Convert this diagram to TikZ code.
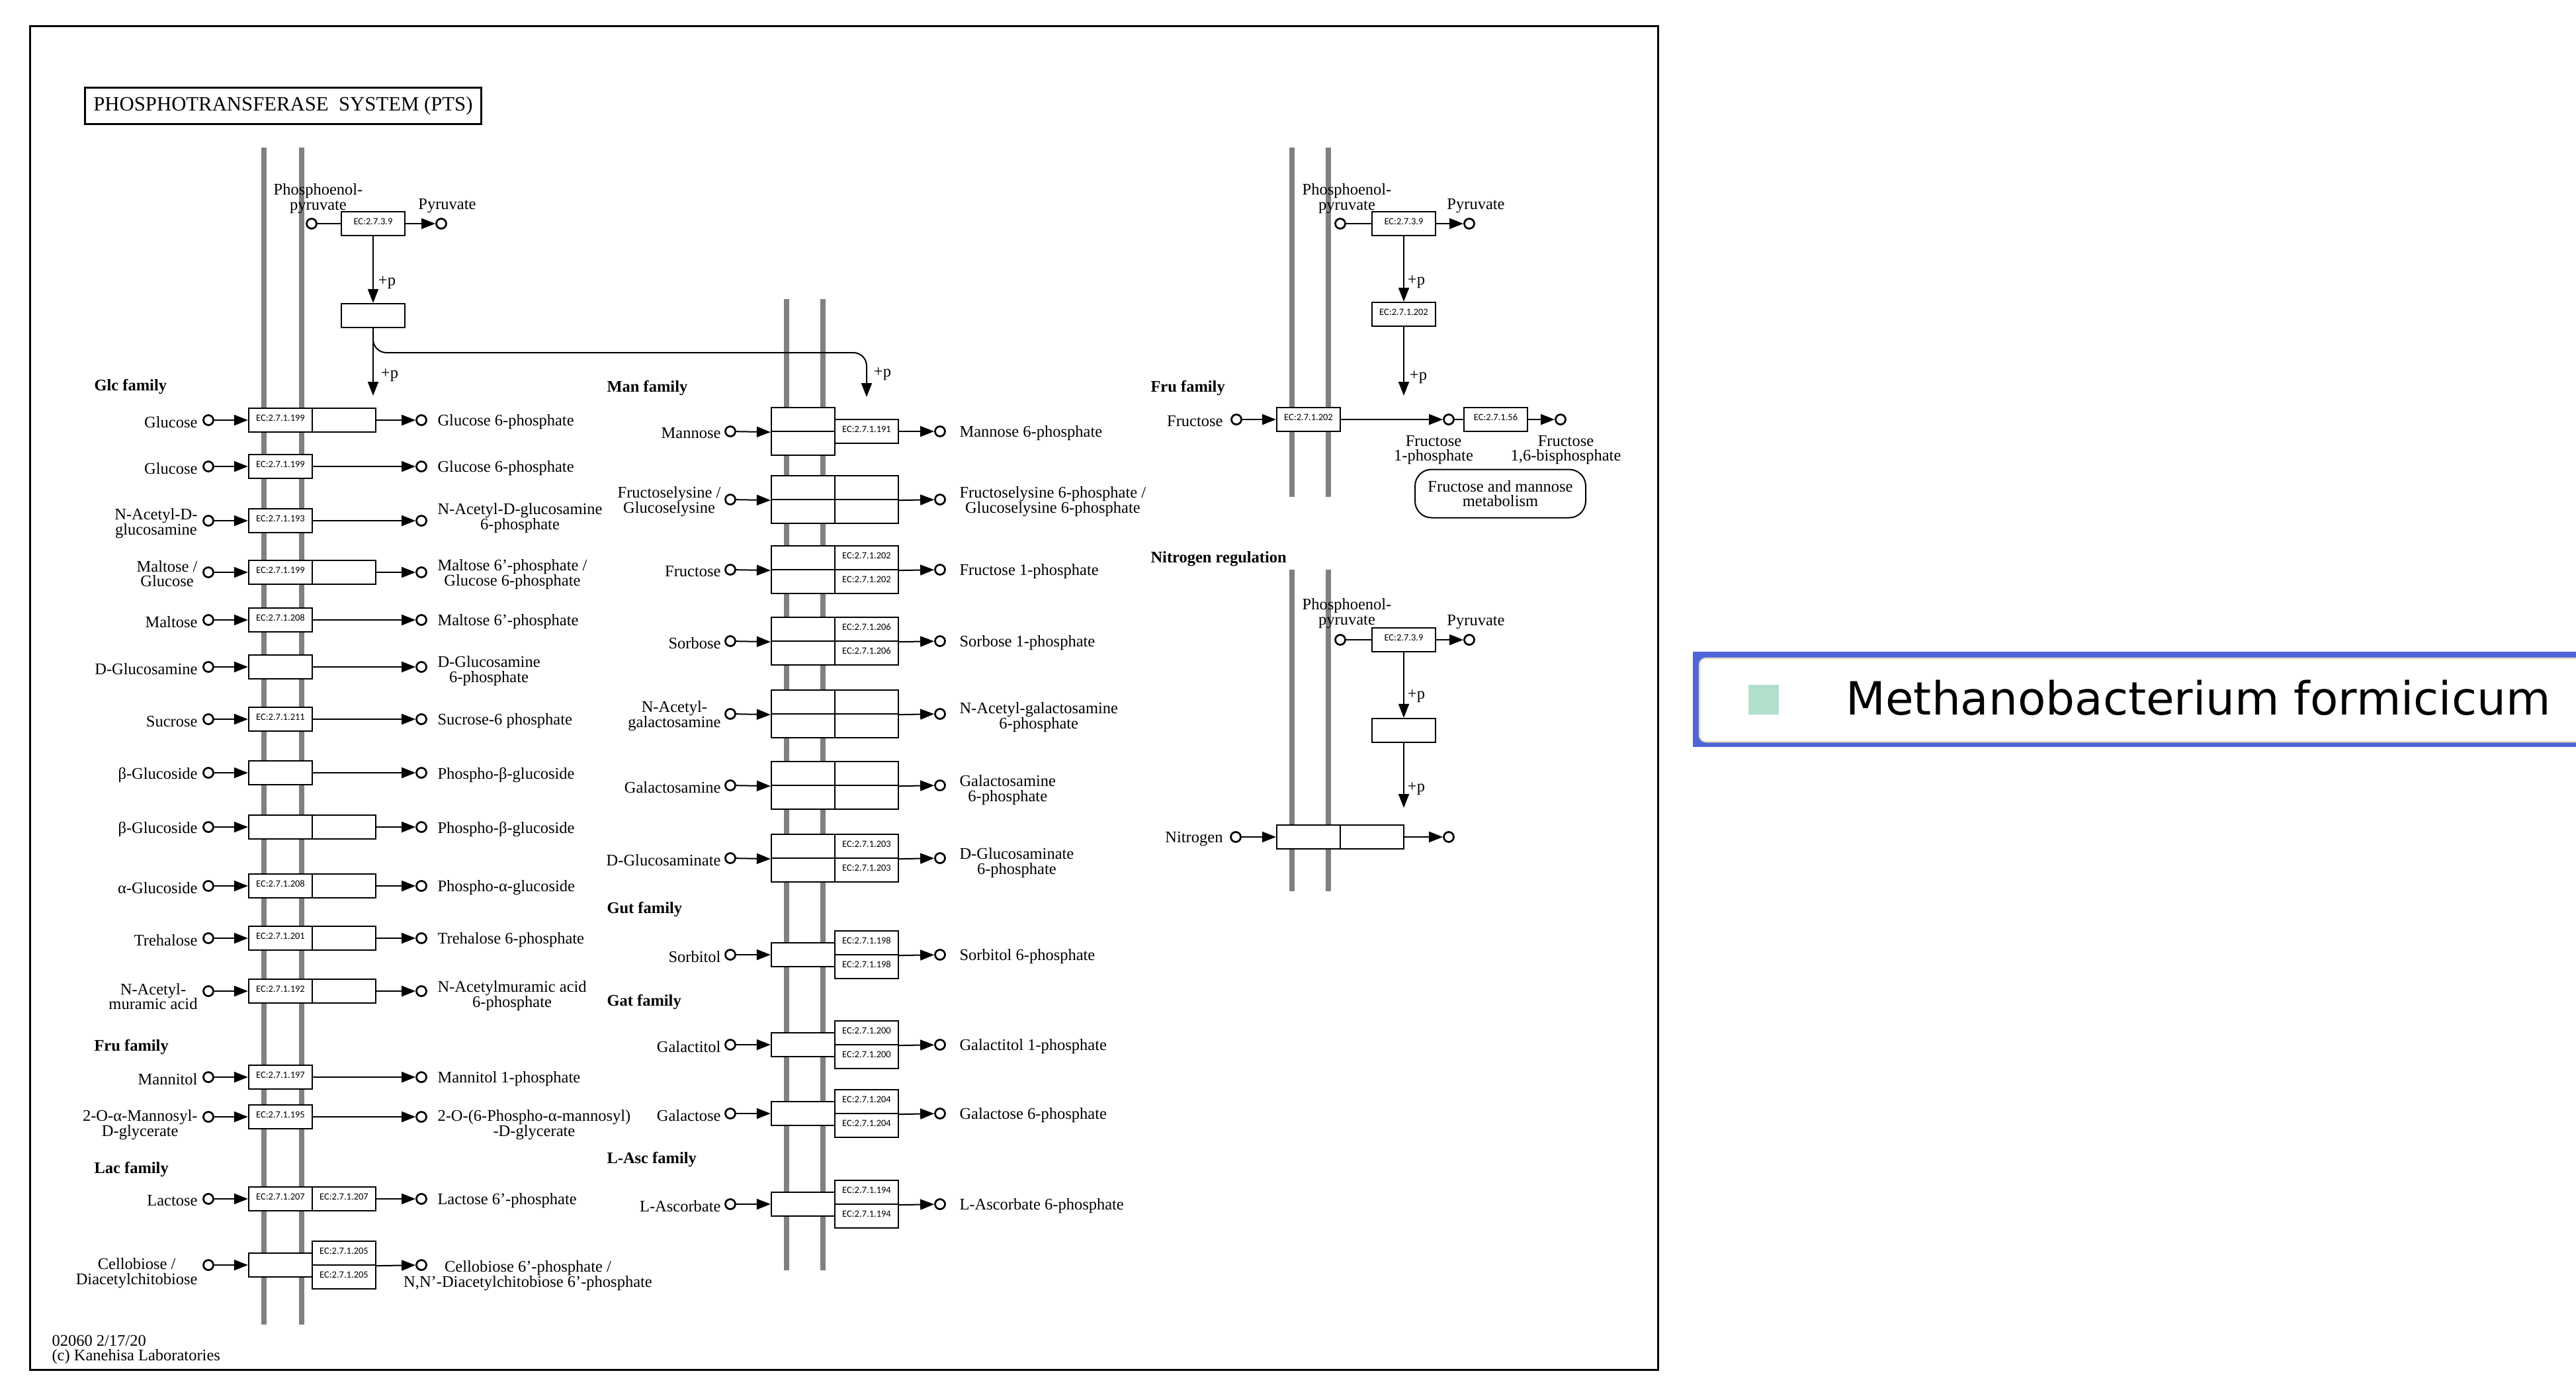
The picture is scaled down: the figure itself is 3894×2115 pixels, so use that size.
\documentclass[tikz,border=0pt]{standalone}
\usepackage{fontspec}
\setmainfont{Liberation Serif}
\newfontfamily\ecfont{Carlito}
\newfontfamily\legendfont{DejaVu Sans}
\usetikzlibrary{
    arrows.meta
}
\definecolor{MembraneGray}{HTML}{808080}
\definecolor{LegendBlue}{HTML}{5066D8}
\definecolor{LegendGreen}{HTML}{B0E0CC}
\definecolor{LegendBeige}{HTML}{E8E0C8}

\begin{document}
\begin{tikzpicture}[
                x=0.4pt, y=-0.4pt,
                every node/.style={align=center, inner sep=0pt},
                cell/.style={draw, fill=white, line width=0.9pt,
                    minimum width=38.4pt, minimum height=14.4pt,
                    text height=3.8pt, text depth=3pt,
                    font=\ecfont\fontsize{5.8}{6}\selectfont},
                cpd/.style={circle, draw, fill=white, line width=1.1pt, minimum size=6pt},
                lbl/.style={font=\fontsize{9.8}{9}\selectfont},
                inlbl/.style={lbl, anchor=east},
                outlbl/.style={lbl, anchor=west},
                family/.style={anchor=west, font=\bfseries\fontsize{9.8}{9}\selectfont},
                flow/.style={-{Triangle[length=8.4pt, width=6.4pt]}, line width=0.8pt},
                link/.style={line width=0.8pt},
                membrane/.style={MembraneGray, line width=3.2pt}
            ]

                \useasboundingbox (0,0) rectangle (3894,2115);

                % frame and title
                \draw[line width=1.2pt] (45,39) rectangle (2506,2070);
                \node[draw, line width=1.2pt, minimum width=239.2pt, minimum height=22pt,
                    font=\fontsize{12.3}{12}\selectfont] (title) at (428,160)
                    {PHOSPHOTRANSFERASE\ \ SYSTEM (PTS)};

                % membranes
                \draw[membrane] (399,223) -- (399,2002);
                \draw[membrane] (456,223) -- (456,2002);
                \draw[membrane] (1189,452) -- (1189,1920);
                \draw[membrane] (1244,452) -- (1244,1920);
                \draw[membrane] (1953,223) -- (1953,751);
                \draw[membrane] (2008,223) -- (2008,751);
                \draw[membrane] (1953,861) -- (1953,1347);
                \draw[membrane] (2008,861) -- (2008,1347);


                % phosphate relay, left
                \node[cpd] (pepa) at (471,338) {};
                \node[cell] (ptsia) at (564,338) {EC:2.7.3.9};
                \node[cpd] (pyra) at (667,338) {};
                \node[lbl] (pepalbl) at (481,300) {Phosphoenol-\\pyruvate};
                \node[lbl] (pyralbl) at (676,311) {Pyruvate};
                \node[cell] (hpra) at (564,477) {};
                \coordinate (glcin) at (564,598);
                \coordinate (branch) at (0,533);
                \coordinate (manin) at (1310,600);
                \node[lbl] (pa1) at (585,427) {+p};
                \node[lbl] (pa2) at (589,567) {+p};
                \node[lbl] (pa3) at (1334,565) {+p};

                \draw[link] (pepa) -- (ptsia);
                \draw[flow] (ptsia) -- (pyra);
                \draw[flow] (ptsia) -- (hpra);
                \draw[flow] (hpra) -- (glcin);
                \draw[flow, rounded corners=8pt]
                    (hpra.south) -- (hpra.south |- branch) -| (manin);


                % Glc family
                \node[family] (glcfam) at (142,585) {Glc family};

                \node[cpd] (glc1in) at (315,635) {};
                \node[cell] (glc1a) at (424,635) {EC:2.7.1.199};
                \node[cell] (glc1b) at (520,635) {};
                \node[cpd] (glc1out) at (637,635) {};
                \node[inlbl] (glc1inl) at (299,638) {Glucose};
                \node[outlbl] (glc1outl) at (661,638) {Glucose 6-phosphate};
                \draw[flow] (glc1in) -- (glc1a);
                \draw[flow] (glc1b) -- (glc1out);

                \node[cpd] (glc2in) at (315,705) {};
                \node[cell] (glc2a) at (424,705) {EC:2.7.1.199};
                \node[cpd] (glc2out) at (637,705) {};
                \node[inlbl] (glc2inl) at (299,708) {Glucose};
                \node[outlbl] (glc2outl) at (661,708) {Glucose 6-phosphate};
                \draw[flow] (glc2in) -- (glc2a);
                \draw[flow] (glc2a) -- (glc2out);

                \node[cpd] (nagin) at (315,787) {};
                \node[cell] (naga) at (424,787) {EC:2.7.1.193};
                \node[cpd] (nagout) at (637,787) {};
                \node[inlbl] (naginl) at (299,791) {N-Acetyl-D-\\glucosamine};
                \node[outlbl] (nagoutl) at (661,783) {N-Acetyl-D-glucosamine\\6-phosphate};
                \draw[flow] (nagin) -- (naga);
                \draw[flow] (naga) -- (nagout);

                \node[cpd] (mal1in) at (315,865) {};
                \node[cell] (mal1a) at (424,865) {EC:2.7.1.199};
                \node[cell] (mal1b) at (520,865) {};
                \node[cpd] (mal1out) at (637,865) {};
                \node[inlbl] (mal1inl) at (299,867) {Maltose /\\Glucose};
                \node[outlbl] (mal1outl) at (661,868) {Maltose 6’-phosphate /\\Glucose 6-phosphate};
                \draw[flow] (mal1in) -- (mal1a);
                \draw[flow] (mal1b) -- (mal1out);

                \node[cpd] (mal2in) at (315,937) {};
                \node[cell] (mal2a) at (424,937) {EC:2.7.1.208};
                \node[cpd] (mal2out) at (637,937) {};
                \node[inlbl] (mal2inl) at (299,940) {Maltose};
                \node[outlbl] (mal2outl) at (661,940) {Maltose 6’-phosphate};
                \draw[flow] (mal2in) -- (mal2a);
                \draw[flow] (mal2a) -- (mal2out);

                \node[cpd] (gcnin) at (315,1008) {};
                \node[cell] (gcna) at (424,1008) {};
                \node[cpd] (gcnout) at (637,1008) {};
                \node[inlbl] (gcninl) at (299,1011) {D-Glucosamine};
                \node[outlbl] (gcnoutl) at (661,1014) {D-Glucosamine\\6-phosphate};
                \draw[flow] (gcnin) -- (gcna);
                \draw[flow] (gcna) -- (gcnout);

                \node[cpd] (sucin) at (315,1087) {};
                \node[cell] (suca) at (424,1087) {EC:2.7.1.211};
                \node[cpd] (sucout) at (637,1087) {};
                \node[inlbl] (sucinl) at (299,1090) {Sucrose};
                \node[outlbl] (sucoutl) at (661,1090) {Sucrose-6 phosphate};
                \draw[flow] (sucin) -- (suca);
                \draw[flow] (suca) -- (sucout);

                \node[cpd] (bgl1in) at (315,1168) {};
                \node[cell] (bgl1a) at (424,1168) {};
                \node[cpd] (bgl1out) at (637,1168) {};
                \node[inlbl] (bgl1inl) at (299,1171) {β-Glucoside};
                \node[outlbl] (bgl1outl) at (661,1171) {Phospho-β-glucoside};
                \draw[flow] (bgl1in) -- (bgl1a);
                \draw[flow] (bgl1a) -- (bgl1out);

                \node[cpd] (bgl2in) at (315,1250) {};
                \node[cell] (bgl2a) at (424,1250) {};
                \node[cell] (bgl2b) at (520,1250) {};
                \node[cpd] (bgl2out) at (637,1250) {};
                \node[inlbl] (bgl2inl) at (299,1253) {β-Glucoside};
                \node[outlbl] (bgl2outl) at (661,1253) {Phospho-β-glucoside};
                \draw[flow] (bgl2in) -- (bgl2a);
                \draw[flow] (bgl2b) -- (bgl2out);

                \node[cpd] (aglin) at (315,1339) {};
                \node[cell] (agla) at (424,1339) {EC:2.7.1.208};
                \node[cell] (aglb) at (520,1339) {};
                \node[cpd] (aglout) at (637,1339) {};
                \node[inlbl] (aglinl) at (299,1342) {α-Glucoside};
                \node[outlbl] (agloutl) at (661,1342) {Phospho-α-glucoside};
                \draw[flow] (aglin) -- (agla);
                \draw[flow] (aglb) -- (aglout);

                \node[cpd] (trein) at (315,1418) {};
                \node[cell] (trea) at (424,1418) {EC:2.7.1.201};
                \node[cell] (treb) at (520,1418) {};
                \node[cpd] (treout) at (637,1418) {};
                \node[inlbl] (treinl) at (299,1421) {Trehalose};
                \node[outlbl] (treoutl) at (661,1421) {Trehalose 6-phosphate};
                \draw[flow] (trein) -- (trea);
                \draw[flow] (treb) -- (treout);

                \node[cpd] (namin) at (315,1498) {};
                \node[cell] (nama) at (424,1498) {EC:2.7.1.192};
                \node[cell] (namb) at (520,1498) {};
                \node[cpd] (namout) at (637,1498) {};
                \node[inlbl] (naminl) at (299,1506) {N-Acetyl-\\muramic acid};
                \node[outlbl] (namoutl) at (661,1505) {N-Acetylmuramic acid\\6-phosphate};
                \draw[flow] (namin) -- (nama);
                \draw[flow] (namb) -- (namout);

                % Fru family, left
                \node[family] (frufama) at (142,1582) {Fru family};

                \node[cpd] (mtlin) at (315,1628) {};
                \node[cell] (mtla) at (424,1628) {EC:2.7.1.197};
                \node[cpd] (mtlout) at (637,1628) {};
                \node[inlbl] (mtlinl) at (299,1631) {Mannitol};
                \node[outlbl] (mtloutl) at (661,1631) {Mannitol 1-phosphate};
                \draw[flow] (mtlin) -- (mtla);
                \draw[flow] (mtla) -- (mtlout);

                \node[cpd] (mngin) at (315,1688) {};
                \node[cell] (mnga) at (424,1688) {EC:2.7.1.195};
                \node[cpd] (mngout) at (637,1688) {};
                \node[inlbl] (mnginl) at (299,1700) {2-O-α-Mannosyl-\\D-glycerate};
                \node[outlbl] (mngoutl) at (661,1700) {2-O-(6-Phospho-α-mannosyl)\\-D-glycerate};
                \draw[flow] (mngin) -- (mnga);
                \draw[flow] (mnga) -- (mngout);

                % Lac family
                \node[family] (lacfam) at (142,1767) {Lac family};

                \node[cpd] (lacin) at (315,1812) {};
                \node[cell] (laca) at (424,1812) {EC:2.7.1.207};
                \node[cell] (lacb) at (520,1812) {EC:2.7.1.207};
                \node[cpd] (lacout) at (637,1812) {};
                \node[inlbl] (lacinl) at (299,1815) {Lactose};
                \node[outlbl] (lacoutl) at (661,1815) {Lactose 6’-phosphate};
                \draw[flow] (lacin) -- (laca);
                \draw[flow] (lacb) -- (lacout);

                \node[cpd] (celin) at (315,1912) {};
                \node[cell] (cela) at (424,1912) {};
                \node[cell] (celbt) at (520,1894) {EC:2.7.1.205};
                \node[cell] (celbb) at (520,1930) {EC:2.7.1.205};
                \node[cpd] (celout) at (637,1912) {};
                \node[inlbl] (celinl) at (299,1924) {Cellobiose /\\Diacetylchitobiose};
                \node[lbl] (celoutl) at (798,1928) {Cellobiose 6’-phosphate /\\N,N’-Diacetylchitobiose 6’-phosphate};
                \draw[flow] (celin) -- (cela);
                \draw[flow] (celbt.south east) -- (celout);

                \node[anchor=west, align=left, font=\fontsize{9.8}{9}\selectfont] (stamp) at (78,2040)
                    {02060 2/17/20\\(c) Kanehisa Laboratories};


                % Man family
                \node[family] (manfam) at (917,587) {Man family};

                \node[cpd] (manin0) at (1104,652) {};
                \node[cell] (mantl) at (1214,634) {};
                \node[cell] (manbl) at (1214,670) {};
                \node[cell] (manr) at (1310,652) {EC:2.7.1.191};
                \node[cpd] (manout) at (1421,652) {};
                \node[inlbl] (maninl) at (1090,655) {Mannose};
                \node[outlbl] (manoutl) at (1450,655) {Mannose 6-phosphate};
                \draw[flow] (manin0) -- (mantl.south west);
                \draw[flow] (manr) -- (manout);

                \node[cpd] (frlin) at (1104,755) {};
                \node[cell] (frltl) at (1214,737) {};
                \node[cell] (frlbl) at (1214,773) {};
                \node[cell] (frltr) at (1310,737) {};
                \node[cell] (frlbr) at (1310,773) {};
                \node[cpd] (frlout) at (1421,755) {};
                \node[inlbl] (frlinl) at (1090,758) {Fructoselysine /\\Glucoselysine};
                \node[outlbl] (frloutl) at (1450,758) {Fructoselysine 6-phosphate /\\Glucoselysine 6-phosphate};
                \draw[flow] (frlin) -- (frltl.south west);
                \draw[flow] (frltr.south east) -- (frlout);

                \node[cpd] (fruin) at (1104,861) {};
                \node[cell] (frutl) at (1214,843) {};
                \node[cell] (frubl) at (1214,879) {};
                \node[cell] (frutr) at (1310,843) {EC:2.7.1.202};
                \node[cell] (frubr) at (1310,879) {EC:2.7.1.202};
                \node[cpd] (fruout) at (1421,861) {};
                \node[inlbl] (fruinl) at (1090,864) {Fructose};
                \node[outlbl] (fruoutl) at (1450,864) {Fructose 1-phosphate};
                \draw[flow] (fruin) -- (frutl.south west);
                \draw[flow] (frutr.south east) -- (fruout);

                \node[cpd] (sorin) at (1104,969) {};
                \node[cell] (sortl) at (1214,951) {};
                \node[cell] (sorbl) at (1214,987) {};
                \node[cell] (sortr) at (1310,951) {EC:2.7.1.206};
                \node[cell] (sorbr) at (1310,987) {EC:2.7.1.206};
                \node[cpd] (sorout) at (1421,969) {};
                \node[inlbl] (sorinl) at (1090,972) {Sorbose};
                \node[outlbl] (soroutl) at (1450,972) {Sorbose 1-phosphate};
                \draw[flow] (sorin) -- (sortl.south west);
                \draw[flow] (sortr.south east) -- (sorout);

                \node[cpd] (nglin) at (1104,1079) {};
                \node[cell] (ngltl) at (1214,1061) {};
                \node[cell] (nglbl) at (1214,1097) {};
                \node[cell] (ngltr) at (1310,1061) {};
                \node[cell] (nglbr) at (1310,1097) {};
                \node[cpd] (nglout) at (1421,1079) {};
                \node[inlbl] (nglinl) at (1090,1082) {N-Acetyl-\\galactosamine};
                \node[outlbl] (ngloutl) at (1450,1084) {N-Acetyl-galactosamine\\6-phosphate};
                \draw[flow] (nglin) -- (ngltl.south west);
                \draw[flow] (ngltr.south east) -- (nglout);

                \node[cpd] (gamin) at (1104,1187) {};
                \node[cell] (gamtl) at (1214,1169) {};
                \node[cell] (gambl) at (1214,1205) {};
                \node[cell] (gamtr) at (1310,1169) {};
                \node[cell] (gambr) at (1310,1205) {};
                \node[cpd] (gamout) at (1421,1187) {};
                \node[inlbl] (gaminl) at (1090,1190) {Galactosamine};
                \node[outlbl] (gamoutl) at (1450,1194) {Galactosamine\\6-phosphate};
                \draw[flow] (gamin) -- (gamtl.south west);
                \draw[flow] (gamtr.south east) -- (gamout);

                \node[cpd] (gmtin) at (1104,1297) {};
                \node[cell] (gmttl) at (1214,1279) {};
                \node[cell] (gmtbl) at (1214,1315) {};
                \node[cell] (gmttr) at (1310,1279) {EC:2.7.1.203};
                \node[cell] (gmtbr) at (1310,1315) {EC:2.7.1.203};
                \node[cpd] (gmtout) at (1421,1297) {};
                \node[inlbl] (gmtinl) at (1090,1300) {D-Glucosaminate};
                \node[outlbl] (gmtoutl) at (1450,1304) {D-Glucosaminate\\6-phosphate};
                \draw[flow] (gmtin) -- (gmttl.south west);
                \draw[flow] (gmttr.south east) -- (gmtout);

                % Gut family
                \node[family] (gutfam) at (917,1374) {Gut family};

                \node[cpd] (sotin) at (1104,1443) {};
                \node[cell] (sotl) at (1214,1443) {};
                \node[cell] (sottr) at (1310,1425) {EC:2.7.1.198};
                \node[cell] (sotbr) at (1310,1461) {EC:2.7.1.198};
                \node[cpd] (sotout) at (1421,1443) {};
                \node[inlbl] (sotinl) at (1090,1446) {Sorbitol};
                \node[outlbl] (sotoutl) at (1450,1446) {Sorbitol 6-phosphate};
                \draw[flow] (sotin) -- (sotl);
                \draw[flow] (sottr.south east) -- (sotout);

                % Gat family
                \node[family] (gatfam) at (917,1514) {Gat family};

                \node[cpd] (gatin) at (1104,1579) {};
                \node[cell] (gatl) at (1214,1579) {};
                \node[cell] (gattr) at (1310,1561) {EC:2.7.1.200};
                \node[cell] (gatbr) at (1310,1597) {EC:2.7.1.200};
                \node[cpd] (gatout) at (1421,1579) {};
                \node[inlbl] (gatinl) at (1090,1582) {Galactitol};
                \node[outlbl] (gatoutl) at (1450,1582) {Galactitol 1-phosphate};
                \draw[flow] (gatin) -- (gatl);
                \draw[flow] (gattr.south east) -- (gatout);

                \node[cpd] (galin) at (1104,1683) {};
                \node[cell] (gall) at (1214,1683) {};
                \node[cell] (galtr) at (1310,1665) {EC:2.7.1.204};
                \node[cell] (galbr) at (1310,1701) {EC:2.7.1.204};
                \node[cpd] (galout) at (1421,1683) {};
                \node[inlbl] (galinl) at (1090,1686) {Galactose};
                \node[outlbl] (galoutl) at (1450,1686) {Galactose 6-phosphate};
                \draw[flow] (galin) -- (gall);
                \draw[flow] (galtr.south east) -- (galout);

                % L-Asc family
                \node[family] (ascfam) at (917,1752) {L-Asc family};

                \node[cpd] (ascin) at (1104,1820) {};
                \node[cell] (ascl) at (1214,1820) {};
                \node[cell] (asctr) at (1310,1802) {EC:2.7.1.194};
                \node[cell] (ascbr) at (1310,1838) {EC:2.7.1.194};
                \node[cpd] (ascout) at (1421,1820) {};
                \node[inlbl] (ascinl) at (1090,1823) {L-Ascorbate};
                \node[outlbl] (ascoutl) at (1450,1823) {L-Ascorbate 6-phosphate};
                \draw[flow] (ascin) -- (ascl);
                \draw[flow] (asctr.south east) -- (ascout);


                % Fru family, right
                \node[cpd] (pepb) at (2026,338) {};
                \node[cell] (ptsib) at (2122,338) {EC:2.7.3.9};
                \node[cpd] (pyrb) at (2221,338) {};
                \node[lbl] (pepblbl) at (2036,300) {Phosphoenol-\\pyruvate};
                \node[lbl] (pyrblbl) at (2231,311) {Pyruvate};
                \node[cell] (frub) at (2122,475) {EC:2.7.1.202};
                \coordinate (frubin) at (2122,598);
                \node[lbl] (pb1) at (2141,426) {+p};
                \node[lbl] (pb2) at (2144,570) {+p};
                \draw[link] (pepb) -- (ptsib);
                \draw[flow] (ptsib) -- (pyrb);
                \draw[flow] (ptsib) -- (frub);
                \draw[flow] (frub) -- (frubin);

                \node[family] (frufamb) at (1739,587) {Fru family};

                \node[cpd] (frcin) at (1869,634) {};
                \node[cell] (frca) at (1978,634) {EC:2.7.1.202};
                \node[cpd] (frcout) at (2190,634) {};
                \node[cell] (fbpa) at (2261,634) {EC:2.7.1.56};
                \node[cpd] (fbpout) at (2359,634) {};
                \node[inlbl] (frcinl) at (1849,637) {Fructose};
                \node[lbl] (frcoutl) at (2167,680) {Fructose\\1-phosphate};
                \node[lbl] (fbpoutl) at (2367,680) {Fructose\\1,6-bisphosphate};
                \node[draw, line width=0.8pt, rounded corners=10pt, minimum width=103.2pt,
                    minimum height=29.2pt, lbl] (frumap) at (2268,746)
                    {Fructose and mannose\\metabolism};
                \draw[flow] (frcin) -- (frca);
                \draw[flow] (frca) -- (frcout);
                \draw[link] (frcout) -- (fbpa);
                \draw[flow] (fbpa) -- (fbpout);


                % Nitrogen regulation
                \node[family] (nitfam) at (1739,845) {Nitrogen regulation};

                \node[cpd] (pepc) at (2026,967) {};
                \node[cell] (ptsic) at (2122,967) {EC:2.7.3.9};
                \node[cpd] (pyrc) at (2221,967) {};
                \node[lbl] (pepclbl) at (2036,927) {Phosphoenol-\\pyruvate};
                \node[lbl] (pyrclbl) at (2231,940) {Pyruvate};
                \node[cell] (hprc) at (2122,1104) {};
                \coordinate (nitin) at (2122,1221);
                \node[lbl] (pc1) at (2141,1052) {+p};
                \node[lbl] (pc2) at (2141,1192) {+p};
                \draw[link] (pepc) -- (ptsic);
                \draw[flow] (ptsic) -- (pyrc);
                \draw[flow] (ptsic) -- (hprc);
                \draw[flow] (hprc) -- (nitin);

                \node[cpd] (nitin0) at (1868,1265) {};
                \node[cell] (nita) at (1978,1265) {};
                \node[cell] (nitb) at (2074,1265) {};
                \node[cpd] (nitout) at (2190,1265) {};
                \node[inlbl] (nitinl) at (1849,1268) {Nitrogen};
                \draw[flow] (nitin0) -- (nita);
                \draw[flow] (nitb) -- (nitout);


                % organism legend
                \fill[LegendBlue] (2559,985) rectangle (3894,1129);
                \draw[LegendBeige, fill=white, line width=1pt, rounded corners=4pt]
                    (2569,995) rectangle (3930,1121);
                \node[fill=LegendGreen, minimum width=18.4pt, minimum height=18pt] (swatch) at (2666,1057) {};
                \node[anchor=base west, font=\legendfont\fontsize{27.7}{28}\selectfont] (species)
                    at (2790,1080) {Methanobacterium formicicum};

            \end{tikzpicture}
\end{document}
